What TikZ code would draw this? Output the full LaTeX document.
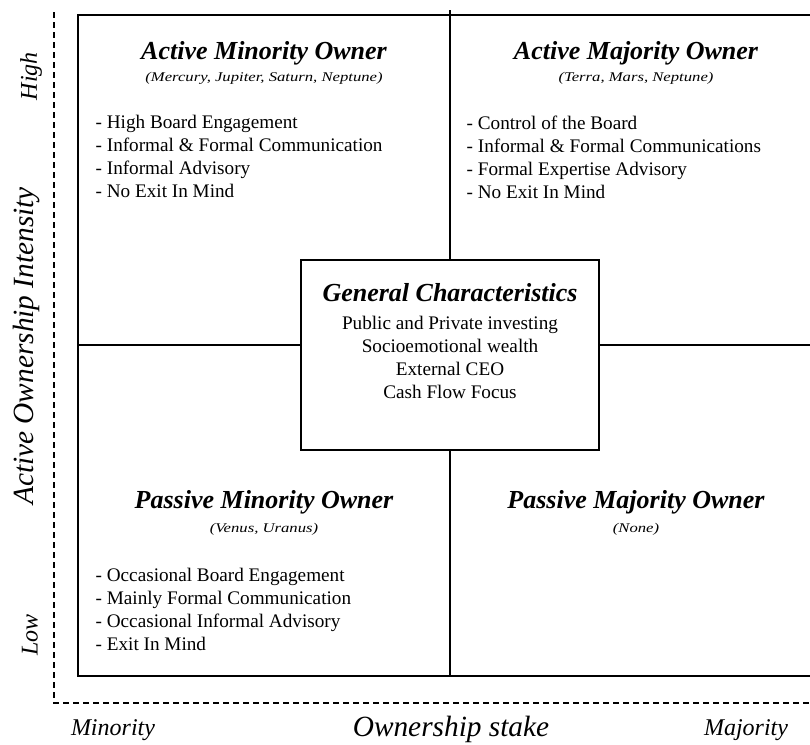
\documentclass[tikz,border=0pt]{standalone}
\usepackage{fontspec}
\setmainfont{Liberation Serif}
\newfontfamily\widefont[FakeStretch=1.25]{Liberation Serif}
\usepackage{tikz}
\usetikzlibrary{positioning}

\tikzset{
	quadtitle/.style={font=\fontsize{19.5}{22}\selectfont\bfseries\itshape},
	quadsub/.style={font=\widefont\fontsize{10}{12}\selectfont\itshape},
	quadlist/.style={anchor=north west, align=left, inner sep=0pt, font=\fontsize{14.4}{17.25}\selectfont},
	axislabel/.style={font=\fontsize{22}{26}\selectfont\itshape},
	axisend/.style={font=\fontsize{18}{22}\selectfont\itshape},
	axisline/.style={line width=1pt, dash pattern=on 4.5pt off 3pt}
}

\begin{document}
\begin{tikzpicture}[x=0.75pt, y=-0.75pt, line width=1pt]
	\clip (0, 0) rectangle (810, 744);

	% dashed axes
	\coordinate (origin) at (54, 703);
	\draw [axisline] (54, 12) -- (origin) -- (822, 703);
	\node at (31, 76) [axisend, rotate=90] (high) {High};
	\node at (26, 346) [axislabel, rotate=90] (intensity) {Active Ownership Intensity};
	\node at (30, 635) [axisend, rotate=90] (low) {Low};
	\node at (113, 730) [axisend] (minority) {Minority};
	\node at (451, 729) [axislabel] (stake) {Ownership stake};
	\node at (746, 730) [axisend] (majority) {Majority};

	% the grid and the box in the middle
	\draw (78, 15) rectangle (822, 676);
	\coordinate (midleft) at (78, 345);
	\coordinate (midright) at (822, 345);
	\node at (450, 355) [draw, fill=white, minimum width=223.5pt, minimum height=142.5pt] (general) {};
	\draw (450, 10) -- (general.north);
	\draw (general.south) -- (450, 676);
	\draw (midleft) -- (midleft -| general.west);
	\draw (midright -| general.east) -- (midright);

	\node at (450, 293) [quadtitle] (gentitle) {General Characteristics};
	\node at (450, 357) [align=center, font=\fontsize{14.4}{17.25}\selectfont] (genlist) {Public and Private investing\\ Socioemotional wealth\\ External CEO\\ Cash Flow Focus};

	% active minority
	\node at (264, 53) [quadtitle] (amin) {Active Minority Owner};
	\node at (264, 78) [quadsub] (aminsub) {(Mercury, Jupiter, Saturn, Neptune)};
	\node at (95, 115) [quadlist] (aminlist) {- High Board Engagement\\ - Informal \& Formal Communication\\ - Informal Advisory\\ - No Exit In Mind};

	% active majority
	\node at (636, 53) [quadtitle] (amaj) {Active Majority Owner};
	\node at (636, 78) [quadsub] (amajsub) {(Terra, Mars, Neptune)};
	\node at (466, 115) [quadlist] (amajlist) {- Control of the Board\\ - Informal \& Formal Communications\\ - Formal Expertise Advisory\\ - No Exit In Mind};

	% passive minority
	\node at (264, 502) [quadtitle] (pmin) {Passive Minority Owner};
	\node at (264, 529) [quadsub] (pminsub) {(Venus, Uranus)};
	\node at (95, 567) [quadlist] (pminlist) {- Occasional Board Engagement\\ - Mainly Formal Communication\\ - Occasional Informal Advisory\\ - Exit In Mind};

	% passive majority
	\node at (636, 502) [quadtitle] (pmaj) {Passive Majority Owner};
	\node at (636, 529) [quadsub] (pmajsub) {(None)};
\end{tikzpicture}
\end{document}
